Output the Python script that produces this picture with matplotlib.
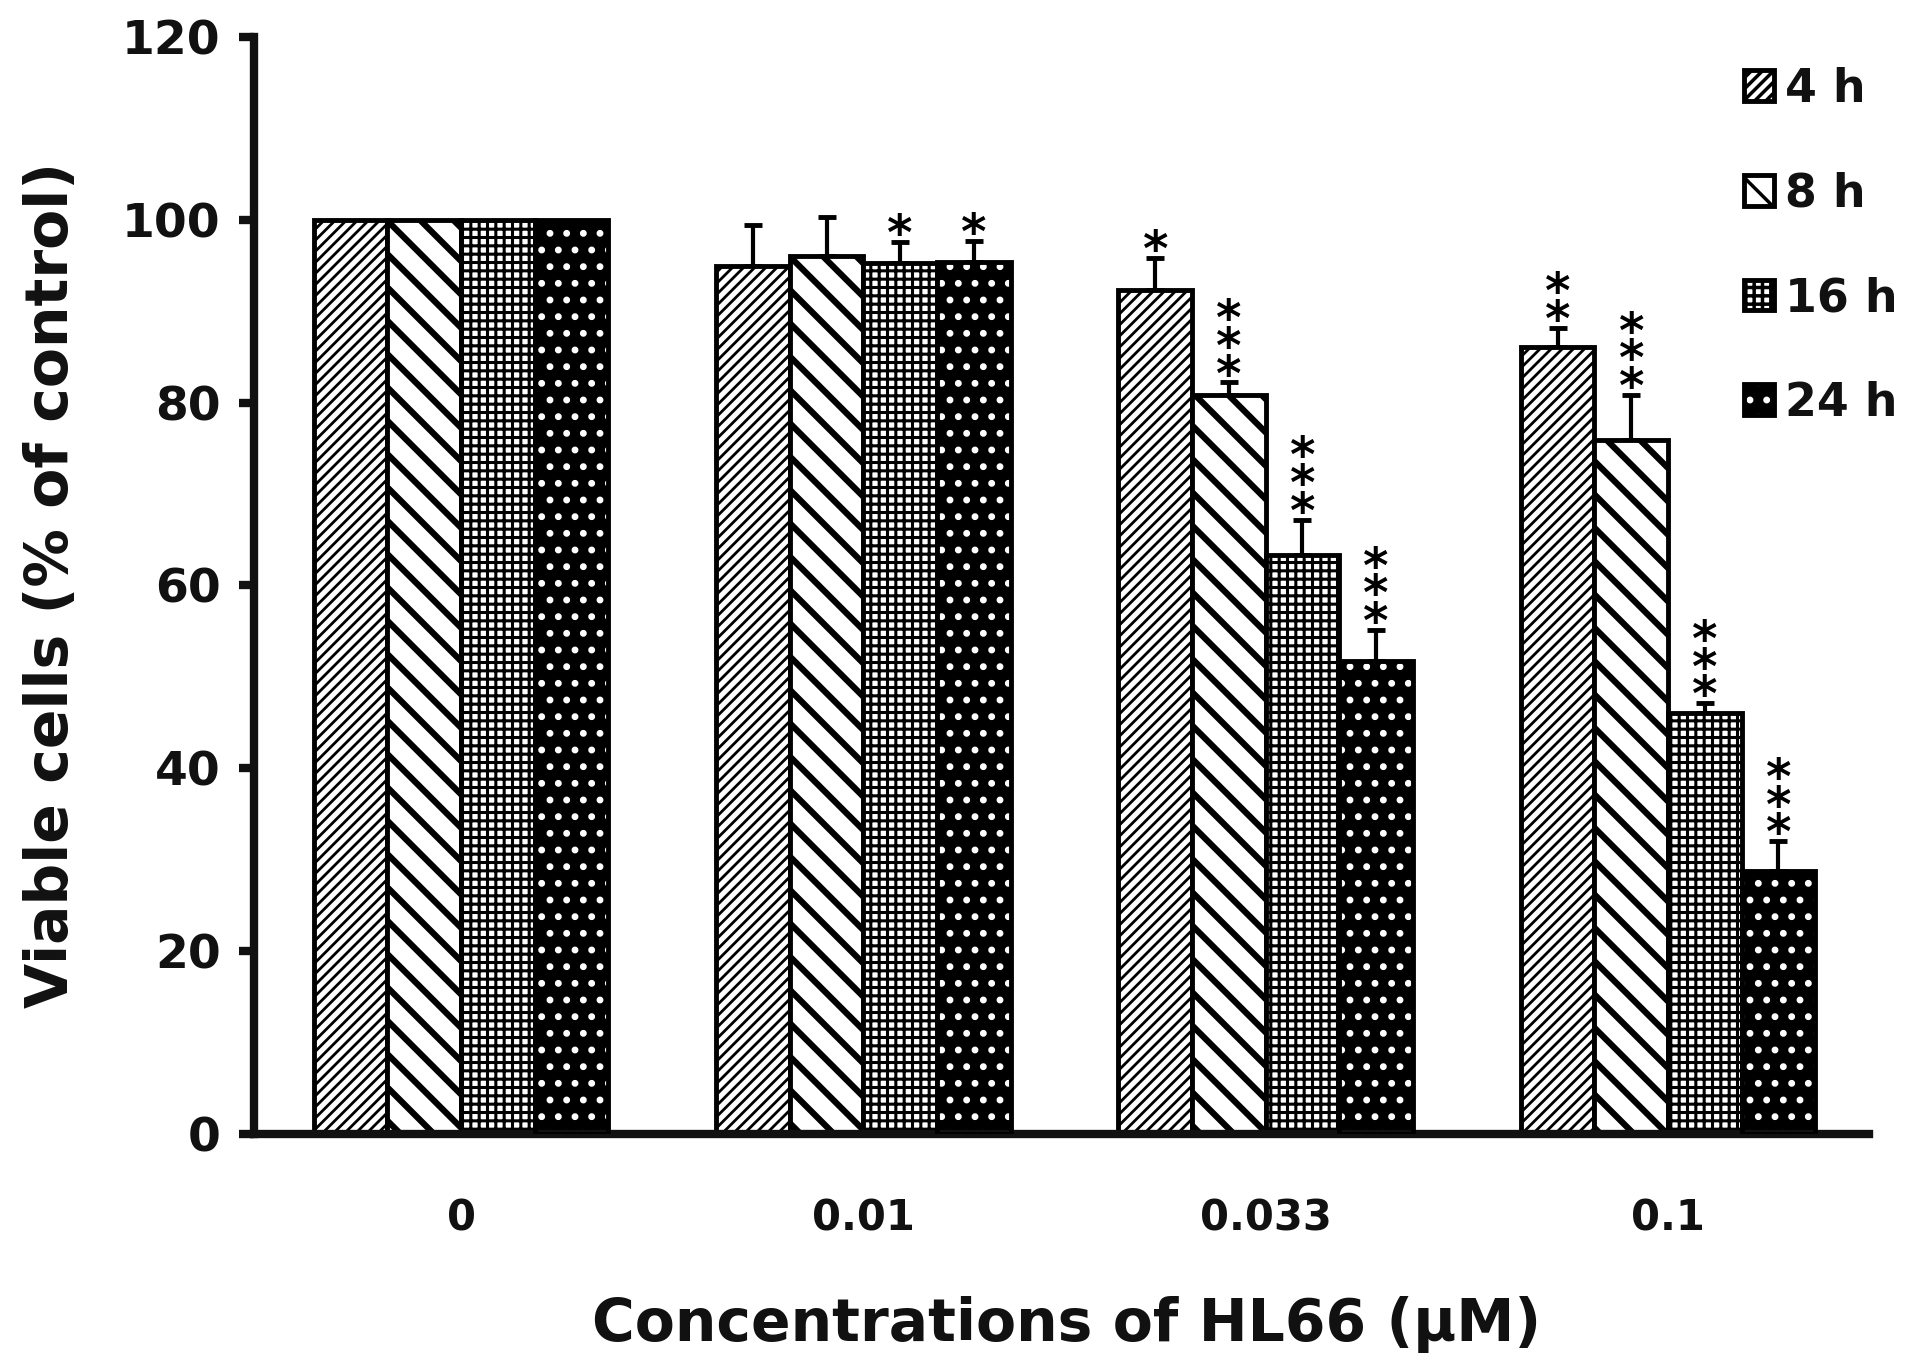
import matplotlib
matplotlib.use("Agg")
import matplotlib.pyplot as plt
import numpy as np
from matplotlib.patches import Patch
from matplotlib.legend_handler import HandlerTuple

# ---- data ----
concentrations = ['0', '0.01', '0.033', '0.1']
times = ['4 h', '8 h', '16 h', '24 h']
v4 = [100, 94.9, 92.3, 86.1]
v8 = [100, 96.0, 80.8, 75.9]
v16 = [100, 95.3, 63.3, 46.0]
v24 = [100, 95.4, 51.7, 28.8]
e4 = [0, 4.5, 3.5, 2.1]
e8 = [0, 4.3, 1.4, 4.9]
e16 = [0, 2.3, 3.9, 1.1]
e24 = [0, 2.3, 3.4, 3.2]
stars4 = [0, 0, 1, 2]
stars8 = [0, 0, 3, 3]
stars16 = [0, 1, 3, 3]
stars24 = [0, 1, 3, 3]

values = [v4, v8, v16, v24]
errors = [e4, e8, e16, e24]
stars = [stars4, stars8, stars16, stars24]

plt.rcParams['font.family'] = ['DejaVu Sans']
plt.rcParams['font.weight'] = 'bold'

fig = plt.figure(figsize=(19.23, 13.64), dpi=100)
ax = fig.add_axes([0.132, 0.1686, 0.840, 0.8044])

x = np.arange(len(concentrations))
w = 0.183
offsets = [-1.5 * w, -0.5 * w, 0.5 * w, 1.5 * w]
hatches = ['///', '\\', '++', '.']
hatch_lws = [2.0, 4.5, 2.2, 2.5]
edge_lw = 3.5

def set_hlw(p, lw):
    try:
        p.set_hatch_linewidth(lw)
    except Exception:
        pass

legend_handles = []
for i in range(4):
    xs = x + offsets[i]
    plt.rcParams['hatch.linewidth'] = hatch_lws[i]
    if i < 3:
        bars = ax.bar(xs, values[i], width=w, color='white', edgecolor='black',
                      hatch=hatches[i], linewidth=edge_lw, zorder=2)
        for p in bars.patches:
            set_hlw(p, hatch_lws[i])
        h = Patch(facecolor='white', edgecolor='black', hatch=hatches[i], linewidth=edge_lw)
        set_hlw(h, hatch_lws[i])
        legend_handles.append(h)
    else:
        bars = ax.bar(xs, values[i], width=w, color='black', edgecolor='white',
                      hatch=hatches[i], linewidth=0, zorder=2)
        for p in bars.patches:
            set_hlw(p, hatch_lws[i])
        ax.bar(xs, values[i], width=w, fill=False, edgecolor='black',
               linewidth=edge_lw, zorder=3)
        h1 = Patch(facecolor='black', edgecolor='white', hatch='.', linewidth=0)
        set_hlw(h1, hatch_lws[i])
        h2 = Patch(fill=False, edgecolor='black', linewidth=edge_lw)
        legend_handles.append((h1, h2))
    err = np.array(errors[i], dtype=float)
    vals = np.array(values[i], dtype=float)
    m = err > 0
    ax.errorbar(xs[m], vals[m], yerr=[np.zeros(m.sum()), err[m]], fmt='none',
                ecolor='black', elinewidth=3, capsize=6.5, capthick=3.5, zorder=1)
    for j in range(len(concentrations)):
        n = stars[i][j]
        if n > 0:
            ax.annotate('\n'.join(['*'] * n), xy=(xs[j], vals[j] + err[j]),
                        xytext=(0, -13), textcoords='offset points',
                        ha='center', va='bottom', fontsize=35, linespacing=0.47,
                        fontweight='bold', color='black', zorder=4)

ax.set_xlim(-0.515, 3.5)
ax.set_ylim(0, 120)
ax.set_yticks(np.arange(0, 121, 20))
ax.set_xticks(x)
ax.set_xticklabels(concentrations)

for s in ['top', 'right']:
    ax.spines[s].set_visible(False)
for s in ['left', 'bottom']:
    ax.spines[s].set_linewidth(6)
    ax.spines[s].set_color('#111111')

ax.tick_params(axis='y', length=11, width=6, color='#111111', pad=13,
               labelsize=34, direction='out')
ax.tick_params(axis='x', length=0, pad=46, labelsize=30)
for lab in ax.get_xticklabels() + ax.get_yticklabels():
    lab.set_fontweight('bold')
    lab.set_color('#111111')

fig.text(0.027, 0.571, 'Viable cells (% of control)', rotation=90,
         ha='center', va='center', fontsize=42, fontweight='bold', color='#111111')
ax.text(0.503, -0.174, 'Concentrations of HL66 (µM)', transform=ax.transAxes,
        ha='center', va='center', fontsize=42, fontweight='bold', color='#111111')

leg = fig.legend(legend_handles, times, loc='upper left',
                 bbox_to_anchor=(0.907, 0.951), frameon=False,
                 fontsize=33, handlelength=0.65, handleheight=0.65,
                 handletextpad=0.25, labelspacing=1.3, borderpad=0,
                 borderaxespad=0,
                 handler_map={tuple: HandlerTuple(ndivide=1, pad=0)})
for t in leg.get_texts():
    t.set_fontweight('bold')
    t.set_color('#111111')

fig.savefig('out.png', dpi=100)
